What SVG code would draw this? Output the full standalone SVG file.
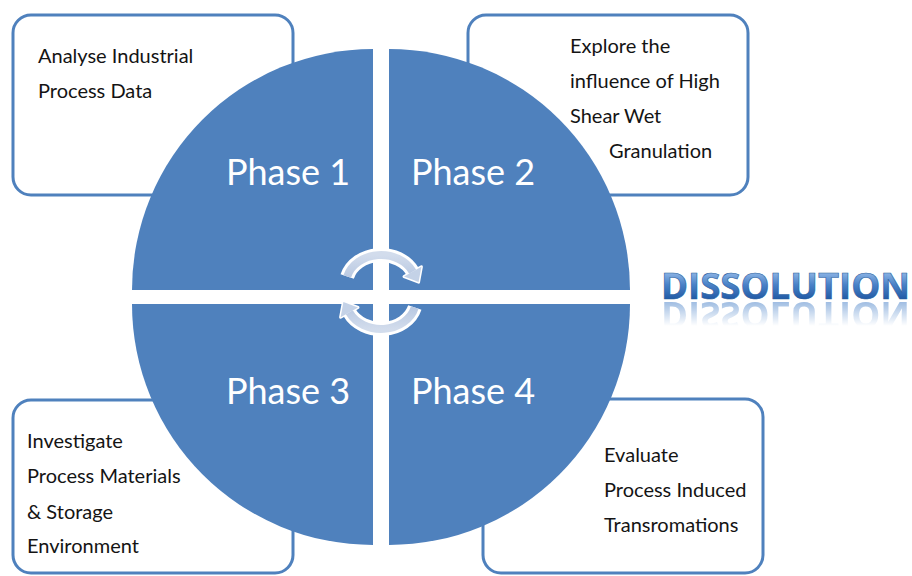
<svg xmlns="http://www.w3.org/2000/svg" width="912" height="576" viewBox="0 0 912 576">
  <defs>
    <style>
      .box { fill: #ffffff; stroke: #4f81bd; stroke-width: 3; }
      .quad { fill: #4f81bd; }
      .phase { font-family: Lato, "Open Sans", sans-serif; font-size: 36px; fill: #ffffff; }
      .note { font-family: Lato, "Open Sans", sans-serif; font-size: 20px; fill: #141414; }
      .title { font-family: "Open Sans", "DejaVu Sans", sans-serif; font-weight: bold; font-size: 36px; }
      .ring-edge { fill: none; stroke: #ffffff; stroke-width: 14; }
      .ring-body { fill: none; stroke: url(#ringFill); stroke-width: 8; }
      .head-edge { fill: #ffffff; stroke: #ffffff; stroke-width: 3; stroke-linejoin: round; }
      .head-body { fill: #c4d2e7; }
    </style>
    <linearGradient id="titleFill" x1="0" y1="272" x2="0" y2="300" gradientUnits="userSpaceOnUse">
      <stop offset="0" stop-color="#8fb6e6"/>
      <stop offset="0.45" stop-color="#4a82c8"/>
      <stop offset="1" stop-color="#1f58a3"/>
    </linearGradient>
    <linearGradient id="ringFill" x1="0" y1="0" x2="0" y2="1">
      <stop offset="0" stop-color="#d2dcec"/>
      <stop offset="1" stop-color="#b9c9e2"/>
    </linearGradient>
    <linearGradient id="fadeDown" x1="0" y1="301" x2="0" y2="326" gradientUnits="userSpaceOnUse">
      <stop offset="0" stop-color="#ffffff" stop-opacity="0.55"/>
      <stop offset="1" stop-color="#ffffff" stop-opacity="0"/>
    </linearGradient>
    <mask id="reflectMask" maskUnits="userSpaceOnUse" x="640" y="295" width="272" height="40">
      <rect x="640" y="295" width="272" height="40" fill="url(#fadeDown)"/>
    </mask>
    <!-- one half of the cycle: arc over the top with a head pointing down on the right -->
    <g id="halfCycle">
      <path class="ring-edge" d="M347.2,276.5 A35,29 0 0 1 412.7,271.7"/>
      <polygon class="head-edge" points="421.4,266.8 404,276.6 418.6,282.1"/>
      <path class="ring-body" d="M347.2,276.5 A35,29 0 0 1 412.7,271.7"/>
      <polygon class="head-body" points="421.4,266.8 404,276.6 418.6,282.1"/>
    </g>
  </defs>

  <rect width="912" height="576" fill="#ffffff"/>

  <!-- description boxes sit behind the circle -->
  <g id="note1">
    <rect class="box" x="13" y="15" width="280" height="180" rx="18"/>
    <text class="note" x="38" y="63">Analyse Industrial</text>
    <text class="note" x="38" y="98">Process Data</text>
  </g>
  <g id="note2">
    <rect class="box" x="468" y="15" width="280" height="180" rx="18"/>
    <text class="note" x="570" y="53">Explore the</text>
    <text class="note" x="570" y="88">influence of High</text>
    <text class="note" x="570" y="123">Shear Wet</text>
    <text class="note" x="609" y="158">Granulation</text>
  </g>
  <g id="note3">
    <rect class="box" x="13" y="400" width="280" height="173" rx="18"/>
    <text class="note" x="27" y="448">Investigate</text>
    <text class="note" x="27" y="483">Process Materials</text>
    <text class="note" x="27" y="519">&amp; Storage</text>
    <text class="note" x="27" y="553">Environment</text>
  </g>
  <g id="note4">
    <rect class="box" x="483" y="399" width="280" height="174" rx="18"/>
    <text class="note" x="604" y="462">Evaluate</text>
    <text class="note" x="604" y="497">Process Induced</text>
    <text class="note" x="604" y="532">Transromations</text>
  </g>

  <!-- four quarter segments of the phase circle -->
  <g id="phase1">
    <path class="quad" d="M373,290 L132,290 A241,241 0 0 1 373,49 Z"/>
    <text class="phase" x="226" y="185">Phase 1</text>
  </g>
  <g id="phase2">
    <path class="quad" d="M389,290 L389,49 A241,241 0 0 1 630,290 Z"/>
    <text class="phase" x="411" y="185">Phase 2</text>
  </g>
  <g id="phase3">
    <path class="quad" d="M373,304 L373,545 A241,241 0 0 1 132,304 Z"/>
    <text class="phase" x="226" y="404">Phase 3</text>
  </g>
  <g id="phase4">
    <path class="quad" d="M389,304 L630,304 A241,241 0 0 1 389,545 Z"/>
    <text class="phase" x="411" y="404">Phase 4</text>
  </g>

  <!-- cycle arrows in the middle -->
  <g id="connectors">
    <use href="#halfCycle"/>
    <use href="#halfCycle" transform="rotate(180 381 292)"/>
  </g>

  <!-- title word with mirrored reflection -->
  <g id="title">
    <g mask="url(#reflectMask)">
      <text class="title" x="661" y="299" textLength="249" lengthAdjust="spacingAndGlyphs" fill="#4a82c8" transform="translate(0,601) scale(1,-1)">DISSOLUTION</text>
    </g>
    <text class="title" x="661" y="299" textLength="249" lengthAdjust="spacingAndGlyphs" fill="url(#titleFill)" stroke="#2a5f9e" stroke-width="0.6">DISSOLUTION</text>
  </g>
</svg>
